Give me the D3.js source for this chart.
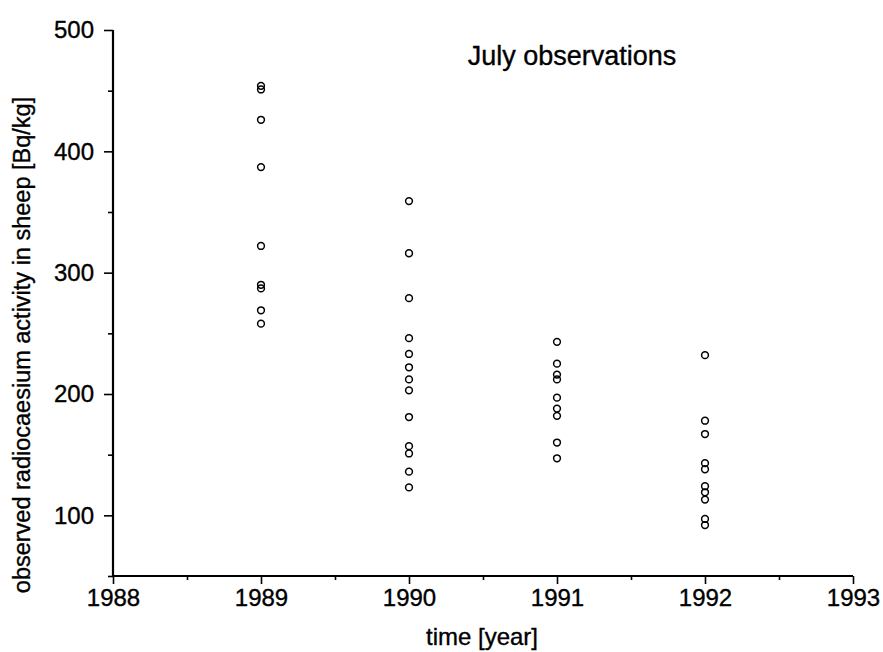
<!DOCTYPE html>
<html>
<head>
<meta charset="utf-8">
<script src="https://cdn.jsdelivr.net/npm/d3@7"></script>
<style>
  html, body { margin: 0; padding: 0; background: #fff; }
  svg { display: block; font-family: "Liberation Sans", Arial, sans-serif; }
  text { stroke: #000; stroke-width: 0.35px; fill: #000; }
</style>
</head>
<body>
<svg id="chart" width="883" height="652"></svg>
<script>
// ---- data ----
const years = [1989, 1990, 1991, 1992];
const values1989 = [454, 451, 426, 387, 322, 290, 287, 269, 258];
const values1990 = [359, 316, 279, 246, 233, 222, 212, 203, 181, 157, 151, 136, 123];
const values1991 = [243, 225, 216, 212, 197, 188, 182, 160, 147];
const values1992 = [232, 178, 167, 143, 138, 124, 119, 113, 97, 92];
const xTicks = [1988, 1989, 1990, 1991, 1992, 1993];
const xMinorTicks = [1988.5, 1989.5, 1990.5, 1991.5, 1992.5];
const yTicks = [100, 200, 300, 400, 500];
const yMinorTicks = [50, 150, 250, 350, 450];
const titleText = "July observations";
const xLabel = "time [year]";
const yLabel = "observed radiocaesium activity in sheep [Bq/kg]";

const series = [values1989, values1990, values1991, values1992];
const points = [];
series.forEach((vals, i) => vals.forEach(v => points.push({year: years[i], value: v})));

// ---- layout ----
const svg = d3.select("#chart");
const mLeft = 113, mRight = 853, mTop = 30, mBottom = 576;

const x = d3.scaleLinear().domain([1988, 1993]).range([mLeft, mRight]);
const y = d3.scaleLinear().domain([50, 500]).range([mBottom, mTop]);

// axes
const gx = svg.append("g").attr("transform", `translate(0,${mBottom})`);
gx.call(d3.axisBottom(x).tickValues(xTicks).tickFormat(d3.format("d")).tickSize(8).tickPadding(5));
gx.append("g").call(d3.axisBottom(x).tickValues(xMinorTicks).tickFormat("").tickSize(4));

const gy = svg.append("g").attr("transform", `translate(${mLeft},0)`);
gy.call(d3.axisLeft(y).tickValues(yTicks).tickFormat(d3.format("d")).tickSize(9).tickPadding(10));
gy.append("g").call(d3.axisLeft(y).tickValues(yMinorTicks).tickFormat("").tickSize(5));

svg.selectAll(".domain").remove();
svg.append("line").attr("x1", mLeft).attr("x2", mRight).attr("y1", mBottom).attr("y2", mBottom)
  .attr("stroke", "#000").attr("stroke-width", 2.2);
svg.append("line").attr("x1", mLeft).attr("x2", mLeft).attr("y1", mTop).attr("y2", mBottom)
  .attr("stroke", "#000").attr("stroke-width", 2.2);

svg.selectAll(".tick line").attr("stroke", "#000").attr("stroke-width", 1.6);
svg.selectAll(".tick text").attr("fill", "#000").style("font-size", "24px");

// points
svg.append("g").selectAll("circle").data(points).join("circle")
  .attr("cx", d => x(d.year))
  .attr("cy", d => y(d.value))
  .attr("r", 3.4)
  .attr("fill", "none")
  .attr("stroke", "#000")
  .attr("stroke-width", 1.5);

// title
svg.append("text").attr("x", 572).attr("y", 65).attr("text-anchor", "middle")
  .style("font-size", "27px").text(titleText);

// axis labels
svg.append("text").attr("x", 482).attr("y", 645).attr("text-anchor", "middle")
  .style("font-size", "24px").text(xLabel);

svg.append("text").attr("transform", `translate(30,345) rotate(-90)`)
  .attr("text-anchor", "middle").style("font-size", "23.5px").text(yLabel);
</script>
</body>
</html>
